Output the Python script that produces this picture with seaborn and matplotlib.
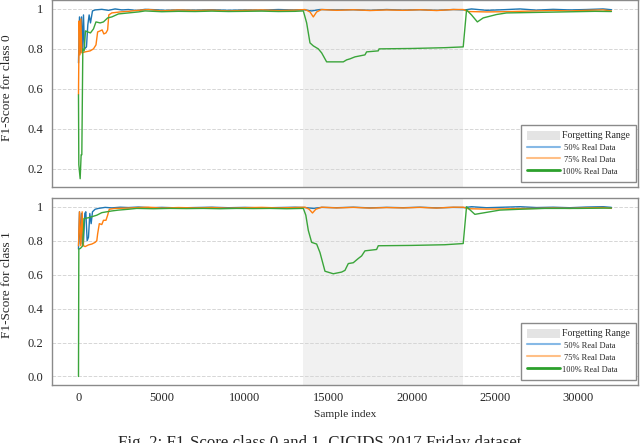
import numpy as np
import pandas as pd
import seaborn as sns
import matplotlib.pyplot as plt
from matplotlib.patches import Patch
from matplotlib.lines import Line2D
from matplotlib.ticker import FuncFormatter

# ---- data ----
forget_start, forget_end = 13500, 23100
x_ticks = [0, 5000, 10000, 15000, 20000, 25000, 30000]

# class 0
c0_blue_x = [0, 60, 120, 180, 240, 300, 360, 480, 560, 640, 720, 840, 1000, 1400, 1800, 2200, 2600, 3000, 3500, 4000,
             4600, 5200, 6000, 7000, 8000, 9000, 10000, 11000, 12000, 12800, 13500, 14000, 14500, 15500, 16500, 17500,
             18500, 19500, 20500, 21500, 22500, 23200, 23600, 24500, 25500, 26500, 27500, 28500, 29500, 30500, 31500, 32000]
c0_blue_y = [0.73, 0.96, 0.78, 0.96, 0.79, 0.97, 0.80, 0.81, 0.92, 0.97, 0.93, 0.99, 0.995, 0.998, 0.993, 1.0, 0.995, 0.997, 0.992, 0.998,
             0.996, 0.993, 0.995, 0.994, 0.996, 0.993, 0.995, 0.994, 0.997, 0.995, 0.996, 0.99, 0.997, 0.995, 0.996, 0.993,
             0.997, 0.994, 0.996, 0.993, 0.997, 0.995, 1.0, 0.993, 0.996, 1.0, 0.994, 0.998, 0.995, 0.997, 1.0, 0.996]

c0_orange_x = [0, 40, 90, 140, 200, 400, 700, 900, 1050, 1150, 1300, 1420, 1520, 1650, 1750, 1820, 2000, 2500, 3000, 3600,
               4200, 5000, 6000, 7000, 8000, 9000, 10000, 11000, 12000, 13000, 13600, 13900, 14100, 14300, 14600, 15500,
               16500, 17500, 18500, 19500, 20500, 21500, 22500, 23100, 23400, 24500, 25500, 26500, 27500, 28500, 29500,
               30500, 31500, 32000]
c0_orange_y = [0.57, 0.94, 0.77, 0.95, 0.78, 0.785, 0.79, 0.80, 0.82, 0.885, 0.89, 0.895, 0.875, 0.88, 0.895, 0.97, 0.98, 0.985, 0.988, 0.993,
               0.997, 0.99, 0.995, 0.992, 0.994, 0.99, 0.993, 0.995, 0.992, 0.994, 0.997, 0.985, 0.96, 0.985, 0.997, 0.993,
               0.996, 0.992, 0.995, 0.993, 0.996, 0.992, 0.997, 0.997, 0.987, 0.985, 0.986, 0.988, 0.99, 0.992, 0.99,
               0.993, 0.995, 0.99]

c0_green_x = [0, 20, 100, 160, 200, 260, 340, 420, 550, 720, 900, 1050, 1300, 1500, 1750, 2000, 2400, 3000, 3600, 4000,
              5000, 6000, 7000, 8000, 9000, 10000, 11000, 12000, 13000, 13500, 13700, 13900, 14100, 14400, 14600, 14900,
              15900, 16100, 16300, 16600, 16900, 17200, 17300, 18000, 18050, 20000, 22000, 23100, 23300, 23600, 23950,
              24300, 25100, 25700, 27100, 29100, 31000, 32000]
c0_green_y = [0.57, 0.22, 0.15, 0.27, 0.27, 0.80, 0.79, 0.89, 0.885, 0.88, 0.90, 0.935, 0.93, 0.935, 0.955, 0.96, 0.975, 0.98, 0.985, 0.99,
              0.986, 0.988, 0.987, 0.989, 0.987, 0.988, 0.989, 0.987, 0.988, 0.99, 0.93, 0.83, 0.815, 0.80, 0.78, 0.735,
              0.735, 0.745, 0.75, 0.76, 0.765, 0.77, 0.785, 0.79, 0.80, 0.802, 0.806, 0.81, 0.995, 0.97, 0.935,
              0.955, 0.972, 0.98, 0.982, 0.985, 0.988, 0.987]

# class 1
c1_blue_x = [0, 60, 120, 180, 240, 300, 380, 440, 520, 600, 680, 760, 840, 1000, 1200, 1600, 2000, 2500, 3000, 3600,
             4300, 5000, 6000, 7000, 8000, 9000, 10000, 11000, 12000, 13000, 13600, 14100, 14600, 15500, 16500, 17500,
             18500, 19500, 20500, 21500, 22500, 23200, 23600, 24500, 25500, 26500, 27500, 28500, 29500, 30500, 31500, 32000]
c1_blue_y = [0.75, 0.97, 0.78, 0.96, 0.78, 0.79, 0.96, 0.97, 0.80, 0.82, 0.96, 0.90, 0.97, 0.985, 0.99, 0.996, 0.993, 0.997, 0.995, 0.998,
             0.994, 0.996, 0.993, 0.995, 0.997, 0.994, 0.996, 0.993, 0.995, 0.997, 0.995, 0.99, 0.996, 0.994, 0.997, 0.993,
             0.996, 0.994, 0.997, 0.993, 0.996, 0.995, 1.0, 0.994, 0.997, 1.0, 0.995, 0.997, 0.994, 0.998, 1.0, 0.996]

c1_orange_x = [0, 60, 140, 220, 300, 400, 600, 800, 1000, 1100, 1150, 1250, 1400, 1500, 1650, 1750, 1850, 2200, 3000, 3600,
               4200, 5000, 6000, 7000, 8000, 9000, 10000, 11000, 12000, 13000, 13600, 13850, 14050, 14250, 14600, 15500,
               16500, 17500, 18500, 19500, 20500, 21500, 22500, 23100, 23400, 24500, 25500, 26500, 27500, 28500, 29500,
               30500, 31500, 32000]
c1_orange_y = [0.77, 0.97, 0.77, 0.97, 0.77, 0.765, 0.775, 0.78, 0.79, 0.80, 0.84, 0.90, 0.895, 0.92, 0.92, 0.95, 0.985, 0.99, 0.992, 0.995,
               0.997, 0.992, 0.995, 0.993, 0.995, 0.991, 0.994, 0.996, 0.993, 0.995, 0.997, 0.985, 0.963, 0.985, 0.997, 0.993,
               0.996, 0.992, 0.995, 0.993, 0.996, 0.992, 0.997, 0.997, 0.988, 0.986, 0.987, 0.989, 0.99, 0.992, 0.99,
               0.993, 0.995, 0.99]

c1_green_x = [0, 20, 120, 260, 330, 600, 1100, 1400, 2000, 2400, 3000, 3500, 4500, 5500, 6500, 7500, 8500, 9500, 10500, 11500,
              12500, 13500, 13650, 13800, 14000, 14300, 14500, 14800, 15300, 15800, 16000, 16200, 16500, 16800, 17000,
              17200, 17900, 18000, 20000, 22000, 23100, 23300, 23800, 24400, 25300, 26500, 28000, 30000, 32000]
c1_green_y = [0.0, 0.75, 0.755, 0.77, 0.93, 0.935, 0.95, 0.965, 0.975, 0.98, 0.985, 0.99, 0.988, 0.99, 0.989, 0.99, 0.988, 0.99, 0.989, 0.99,
              0.988, 0.99, 0.95, 0.86, 0.79, 0.78, 0.73, 0.62, 0.605, 0.615, 0.625, 0.665, 0.67, 0.695, 0.71,
              0.74, 0.748, 0.77, 0.772, 0.776, 0.783, 1.0, 0.955, 0.965, 0.98, 0.985, 0.99, 0.99, 0.992]

panels = [
    ("F1-Score for class 0", [(c0_blue_x, c0_blue_y), (c0_orange_x, c0_orange_y), (c0_green_x, c0_green_y)]),
    ("F1-Score for class 1", [(c1_blue_x, c1_blue_y), (c1_orange_x, c1_orange_y), (c1_green_x, c1_green_y)]),
]
colors = ['#1f77b4', '#ff7f0e', '#3aa53a']

sns.set_style('whitegrid', {'grid.color': '#d6d6d6', 'grid.linestyle': '--',
                            'axes.edgecolor': '#8a8a8a'})
plt.rcParams['font.family'] = ['Liberation Serif', 'DejaVu Serif']

fig, axs = plt.subplots(2, 1, figsize=(6.4, 4.43), dpi=100, sharex=True)
fig.subplots_adjust(left=0.081, right=0.997, top=0.999, bottom=0.131, hspace=0.059)

fmt = FuncFormatter(lambda v, p: '1' if abs(v - 1) < 1e-9 else f'{v:.1f}')

for ax, (ylabel, series) in zip(axs, panels):
    ax.axvspan(forget_start, forget_end, color='#f1f1f1', zorder=0, lw=0)
    for (xs, ys), c in zip(series, colors):
        sns.lineplot(x=xs, y=ys, ax=ax, color=c, lw=1.0, zorder=3)
    ax.xaxis.grid(False)
    ax.yaxis.grid(True, lw=0.7)
    ax.set_axisbelow(True)
    ax.yaxis.set_major_formatter(fmt)
    ax.set_xticks(x_ticks)
    ax.tick_params(axis='y', length=0, pad=6, labelsize=9)
    ax.tick_params(axis='x', length=2.5, width=0.8, color='#333333', pad=2.5, labelsize=9)
    for s in ax.spines.values():
        s.set_linewidth(1.0)
    ax.set_ylabel(ylabel, fontsize=9.5)
    ax.yaxis.set_label_coords(-0.067, 0.535)

    handles = [Patch(facecolor='#e4e4e4', edgecolor='none'),
               Line2D([], [], color='#86b9e6', lw=1.5),
               Line2D([], [], color='#ffbf86', lw=1.5),
               Line2D([], [], color='#2ca02c', lw=2.0)]
    labels = ['Forgetting Range', ' 50% Real Data', ' 75% Real Data', '100% Real Data']
    leg = ax.legend(handles, labels, loc='lower right', bbox_to_anchor=(0.997, 0.027),
                    fontsize=6, frameon=True, fancybox=False,
                    edgecolor='#8a8a8a', framealpha=1, handlelength=3.9, handleheight=1.3,
                    handletextpad=0.3, labelspacing=0.3, borderpad=0.75, borderaxespad=0)
    leg.get_frame().set_linewidth(1.0)
    leg.get_texts()[0].set_fontsize(7)

axs[0].set_xlim(-1600, 33600)
axs[0].tick_params(axis='x', labelbottom=False)
axs[1].set_xlabel('Sample index', fontsize=8.2)
axs[1].xaxis.set_label_coords(0.5, -0.135)

fig.text(0.499, -0.009, 'Fig. 2: F1-Score class 0 and 1, CICIDS 2017 Friday dataset',
         ha='center', va='baseline', fontsize=12.2)

fig.savefig('out.png', dpi=100)
